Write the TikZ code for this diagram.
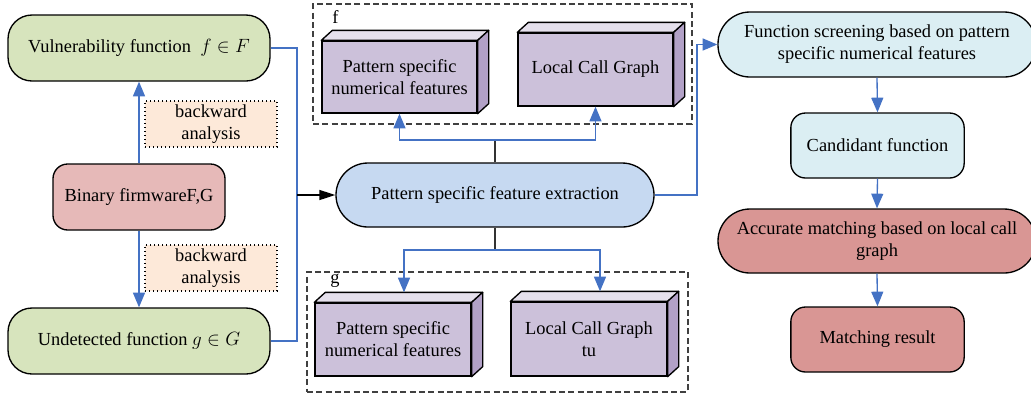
\documentclass[tikz,border=0pt]{standalone}
\usepackage{fontspec}
\setmainfont{Liberation Serif}
\usetikzlibrary{arrows.meta}
\definecolor{cgreen}{HTML}{D7E4BD}
\definecolor{cpink}{HTML}{E6B9B8}
\definecolor{corange}{HTML}{FDE9D9}
\definecolor{cblue}{HTML}{C6D9F1}
\definecolor{cblue2}{HTML}{DBEEF3}
\definecolor{cred}{HTML}{D99694}
\definecolor{cfront}{HTML}{CCC1DA}
\definecolor{ctop}{HTML}{E5E0EC}
\definecolor{cside}{HTML}{B2A1C7}
\definecolor{aline}{HTML}{4472C4}
\tikzset{
  txt/.style={font=\fontsize{13.8}{16.5}\selectfont, align=center},
  rbox/.style={txt, draw, line width=1pt, inner sep=2pt},
  notebox/.style={txt, draw, dotted, line width=1pt, fill=corange, minimum width=99pt, minimum height=34.5pt, inner sep=1pt},
  cubefront/.style={txt, draw, line width=1pt, fill=cfront, inner sep=1pt},
  cubetop/.style={draw, line width=1pt, fill=ctop, line join=round},
  cubeside/.style={draw, line width=1pt, fill=cside, line join=round},
  grp/.style={draw, dash pattern=on 4.5pt off 2.5pt, line width=0.8pt, black!75, inner sep=0pt},
  barrow/.style={draw=aline, line width=1pt, -{Triangle[length=11pt,width=9pt]}},
  bline/.style={draw=aline, line width=1pt},
  karrow/.style={draw, line width=1pt, -{Triangle[length=12pt,width=7.5pt]}},
  kline/.style={draw, black!80, line width=0.8pt},
}
\newcommand\mkcube[5]{%
  \node[cubefront, minimum width=#3, minimum height=#4] (#1) at #2 {#5};
  \draw[cubetop] (#1.north west) -- ++(11,-10) -- ([shift={(11,-10)}]#1.north east) -- (#1.north east) -- cycle;
  \draw[cubeside] (#1.north east) -- ([shift={(11,-10)}]#1.north east) -- ([shift={(11,-10)}]#1.south east) -- (#1.south east) -- cycle;
  \coordinate (#1top) at ([shift={(11,-10)}]#1.north);
}
\begin{document}
\begin{tikzpicture}[x=0.75pt, y=-0.75pt]
\useasboundingbox (0,0) rectangle (1031,394);

% left column
\node[rbox, fill=cgreen, rounded corners=18pt, minimum width=196.5pt, minimum height=49.5pt] (vul) at (139,48) {Vulnerability function \ $f\in F$};
\node[rbox, fill=cpink, rounded corners=11pt, minimum width=129pt, minimum height=49.5pt] (bin) at (139,197) {Binary firmwareF,G};
\node[rbox, fill=cgreen, rounded corners=18pt, minimum width=196.5pt, minimum height=49.5pt] (und) at (139,341) {Undetected function $g\in G$};
\node[notebox] (n1) at (211,124) {backward\\analysis};
\node[notebox] (n2) at (211,268) {backward\\analysis};
\draw[barrow] (bin.north) -- (vul.south);
\draw[barrow] (bin.south) -- (und.north);

% middle
\node[rbox, fill=cblue, rounded corners=24pt, minimum width=238.5pt, minimum height=48pt] (ext) at (495,195) {Pattern specific feature extraction};
\coordinate (j) at (297,195);
\draw[bline] (vul.east) -| (j);
\draw[bline] (und.east) -| (j);
\draw[karrow] (j) -- (ext.west);

\node[grp, minimum width=284.25pt, minimum height=90pt] (fbox) at (502.5,64) {};
\node[txt, anchor=west, inner sep=0pt] (flab) at (332,17) {f};
\mkcube{c1}{(399.5,77)}{116.25pt}{54pt}{Pattern specific\\numerical features}
\mkcube{c2}{(595.5,69.5)}{116.25pt}{54.75pt}{Local Call Graph}

\node[grp, minimum width=285.75pt, minimum height=90pt] (gbox) at (497.5,332) {};
\node[txt, anchor=west, inner sep=0pt] (glab) at (330,281) {g};
\mkcube{c3}{(393,339.5)}{117pt}{54.75pt}{Pattern specific\\numerical features}
\mkcube{c4}{(589,339)}{117pt}{55.5pt}{Local Call Graph\\tu}

\coordinate (ts) at (495,140);
\coordinate (bs) at (495,250);
\draw[kline] (ext.north) -- (ts);
\draw[kline] (ext.south) -- (bs);
\draw[barrow] (ts) -| (c1.south);
\draw[barrow] (ts) -| (c2.south);
\draw[barrow] (bs) -| (c3top);
\draw[barrow] (bs) -| (c4top);

% right column
\node[rbox, fill=cblue2, rounded corners=24pt, minimum width=238.5pt, minimum height=48.75pt] (scr) at (877,44.5) {Function screening based on pattern\\specific numerical features};
\node[rbox, fill=cblue2, rounded corners=11pt, minimum width=130pt, minimum height=48.75pt] (cand) at (877.5,145.5) {Candidant function};
\node[rbox, fill=cred, rounded corners=24pt, minimum width=238.5pt, minimum height=48pt] (acc) at (877,241) {Accurate matching based on local call\\graph};
\node[rbox, fill=cred, rounded corners=11pt, minimum width=130pt, minimum height=48.75pt] (res) at (877.5,339.5) {Matching result};

\coordinate (rj) at (697,0);
\draw[barrow] (ext.east) -- (ext.east -| rj) -- (scr.west -| rj) -- (scr.west);
\draw[barrow] (scr.south) -- (cand.north);
\draw[barrow] (cand.south) -- (acc.north);
\draw[barrow] (acc.south) -- (res.north);
\end{tikzpicture}
\end{document}
